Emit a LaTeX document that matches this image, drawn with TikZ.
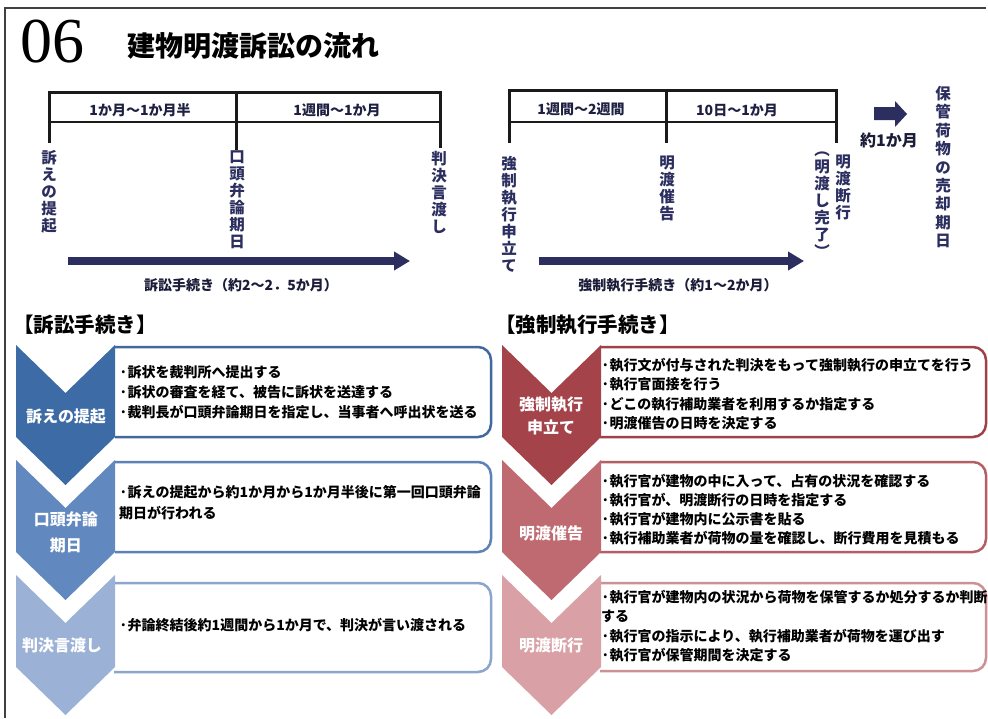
\documentclass[tikz,border=0pt]{standalone}
\usepackage{fontspec}
\newfontfamily\jp{Noto Sans CJK JP}
\newfontfamily\numfont{Liberation Serif}
\usetikzlibrary{arrows.meta}
\definecolor{navy}{HTML}{2B2E5E}
\definecolor{tlblack}{HTML}{1A1A1A}
\definecolor{bA}{HTML}{3D6BA5}
\definecolor{bB}{HTML}{6188BF}
\definecolor{bC}{HTML}{9BB1D5}
\definecolor{rA}{HTML}{A4434A}
\definecolor{rB}{HTML}{BF6A71}
\definecolor{rC}{HTML}{D9A1A5}
\definecolor{bbA}{HTML}{41699E}
\definecolor{bbB}{HTML}{5D82B8}
\definecolor{bbC}{HTML}{8CA5CD}
\definecolor{rbA}{HTML}{9E4149}
\definecolor{rbB}{HTML}{B45F66}
\definecolor{rbC}{HTML}{CD9095}
\begin{document}
\begin{tikzpicture}[x=1pt,y=-1pt,
  tl/.style={line width=3pt, draw=tlblack},
  tlthin/.style={line width=2.4pt, draw=tlblack},
  per/.style={font=\jp\bfseries\fontsize{14}{16}\selectfont, text=navy!70!black, inner sep=0},
  vlab/.style={font=\jp\bfseries\fontsize{15.5}{17}\selectfont, text=navy, align=center, inner sep=0, anchor=north},
  bigarrow/.style={line width=8pt, draw=navy, -{Triangle[length=16pt,width=18pt]}},
  plabel/.style={font=\jp\bfseries\fontsize{14}{16}\selectfont, text=navy!60!black, inner sep=0},
  head/.style={font=\jp\bfseries\fontsize{20.5}{22}\selectfont, text=black, inner sep=0, anchor=west},
  btext/.style={font=\jp\bfseries\fontsize{14}{#1}\selectfont, text=black, align=left, inner sep=0, anchor=north west},
  ctext/.style={font=\jp\bfseries\fontsize{16}{#1}\selectfont, text=white, align=center, inner sep=0},
  box/.style={line width=2.5pt, rounded corners=13pt, fill=white},
  chev/.pic={\path[pic actions] (0,0) -- (49.5,48) -- (99,0) -- (99,92) -- (49.5,140) -- (0,92) -- cycle;}
]
\useasboundingbox (0,0) rectangle (988,718);
\fill[white] (0,0) rectangle (988,718);
% frame
\draw[line width=1.6pt, draw=black!75] (5,718) -- (5,8) -- (986,8);

% title
\node[anchor=base west, font=\numfont\fontsize{64}{64}\selectfont, inner sep=0] (num) at (20,62) {06};
\node[anchor=west, font=\jp\bfseries\fontsize{28}{28}\selectfont, inner sep=0] (title) at (127,46) {建物明渡訴訟の流れ};

% ---- left timeline
\draw[tl] (49,143) -- (49,92) -- (440,92) -- (440,148);
\draw[tl] (236,92) -- (236,150);
\draw[tlthin] (49,122) -- (440,122);
\node[per] (p1) at (140,110) {1か月～1か月半};
\node[per] (p2) at (337,110) {1週間～1か月};
\node[vlab] (v1) at (49,150) {訴\\え\\の\\提\\起};
\node[vlab] (v2) at (237,150) {口\\頭\\弁\\論\\期\\日};
\node[vlab] (v3) at (439,151) {判\\決\\言\\渡\\し};
\coordinate (a1s) at (68,261);
\coordinate (a1e) at (410,261);
\draw[bigarrow] (a1s) -- (a1e);
\node[plabel] (l1) at (241,285) {訴訟手続き（約2～2．5か月）};

% ---- right timeline
\draw[tl] (509,143) -- (509,90) -- (836,90) -- (836,143);
\draw[tl] (666,90) -- (666,143);
\draw[tlthin] (509,122) -- (836,122);
\node[per] (p3) at (581,109) {1週間～2週間};
\node[per] (p4) at (737,110) {10日～1か月};
\node[vlab] (v4) at (509,156) {強\\制\\執\\行\\申\\立\\て};
\node[vlab] (v5) at (667,156) {明\\渡\\催\\告};
\node[vlab] (v6) at (843,155) {明\\渡\\断\\行};
\node[vlab] (v7) at (822,152) {︵\\明\\渡\\し\\完\\了\\︶};
\node[vlab, font=\jp\bfseries\fontsize{15.5}{18.4}\selectfont] (v8) at (943,86) {保\\管\\荷\\物\\の\\売\\却\\期\\日};
\coordinate (a2s) at (539,261);
\coordinate (a2e) at (804,261);
\draw[bigarrow] (a2s) -- (a2e);
\node[plabel] (l2) at (678,285) {強制執行手続き（約1～2か月）};
\fill[navy] (874,107) -- (895,107) -- (895,101) -- (907,114) -- (895,127) -- (895,120) -- (874,120) -- cycle;
\node[font=\jp\bfseries\fontsize{16}{18}\selectfont, text=navy!60!black, inner sep=0] (m1) at (889,140) {約1か月};

% ---- headings
\node[head] (h1) at (13,325) {【訴訟手続き】};
\node[head] (h2) at (495,325) {【強制執行手続き】};

% ---- left boxes
\filldraw[box, draw=bbA] (115,347) -- (491,347) -- (491,437) -- (115,437);
\filldraw[box, draw=bbB] (115,462) -- (491,462) -- (491,552) -- (115,552);
\filldraw[box, draw=bbC] (114,583) -- (491,583) -- (491,672) -- (114,672);
\pic[fill=bA] at (16,345) {chev};
\pic[fill=bB] at (16,460) {chev};
\pic[fill=bC] at (16,575) {chev};
\node[ctext=18] (c1) at (66,417) {訴えの提起};
\node[ctext=26] (c2) at (66,532) {口頭弁論\\期日};
\node[ctext=18] (c3) at (62,645) {判決言渡し};
\node[btext=20] (t1) at (119,365) {·訴状を裁判所へ提出する\\·訴状の審査を経て、被告に訴状を送達する\\·裁判長が口頭弁論期日を指定し、当事者へ呼出状を送る};
\node[btext=21] (t2) at (119,485) {·訴えの提起から約1か月から1か月半後に第一回口頭弁論\\期日が行われる};
\node[btext=20] (t3) at (119,618) {·弁論終結後約1週間から1か月で、判決が言い渡される};

% ---- right boxes
\filldraw[box, draw=rbA] (600,347) -- (986,347) -- (986,437) -- (600,437);
\filldraw[box, draw=rbB] (600,462) -- (986,462) -- (986,552) -- (600,552);
\filldraw[box, draw=rbC] (600,583) -- (986,583) -- (986,671) -- (600,671);
\pic[fill=rA] at (502,345) {chev};
\pic[fill=rB] at (502,460) {chev};
\pic[fill=rC] at (502,575) {chev};
\node[ctext=23] (c4) at (551,416) {強制執行\\申立て};
\node[ctext=18] (c5) at (551,533) {明渡催告};
\node[ctext=18] (c6) at (551,645) {明渡断行};
\node[btext=19.3] (t4) at (601,358) {·執行文が付与された判決をもって強制執行の申立てを行う\\·執行官面接を行う\\·どこの執行補助業者を利用するか指定する\\·明渡催告の日時を決定する};
\node[btext=19] (t5) at (601,474) {·執行官が建物の中に入って、占有の状況を確認する\\·執行官が、明渡断行の日時を指定する\\·執行官が建物内に公示書を貼る\\·執行補助業者が荷物の量を確認し、断行費用を見積もる};
\node[btext=19.3] (t6) at (601,590) {·執行官が建物内の状況から荷物を保管するか処分するか判断\\する\\·執行官の指示により、執行補助業者が荷物を運び出す\\·執行官が保管期間を決定する};
\end{tikzpicture}
\end{document}
